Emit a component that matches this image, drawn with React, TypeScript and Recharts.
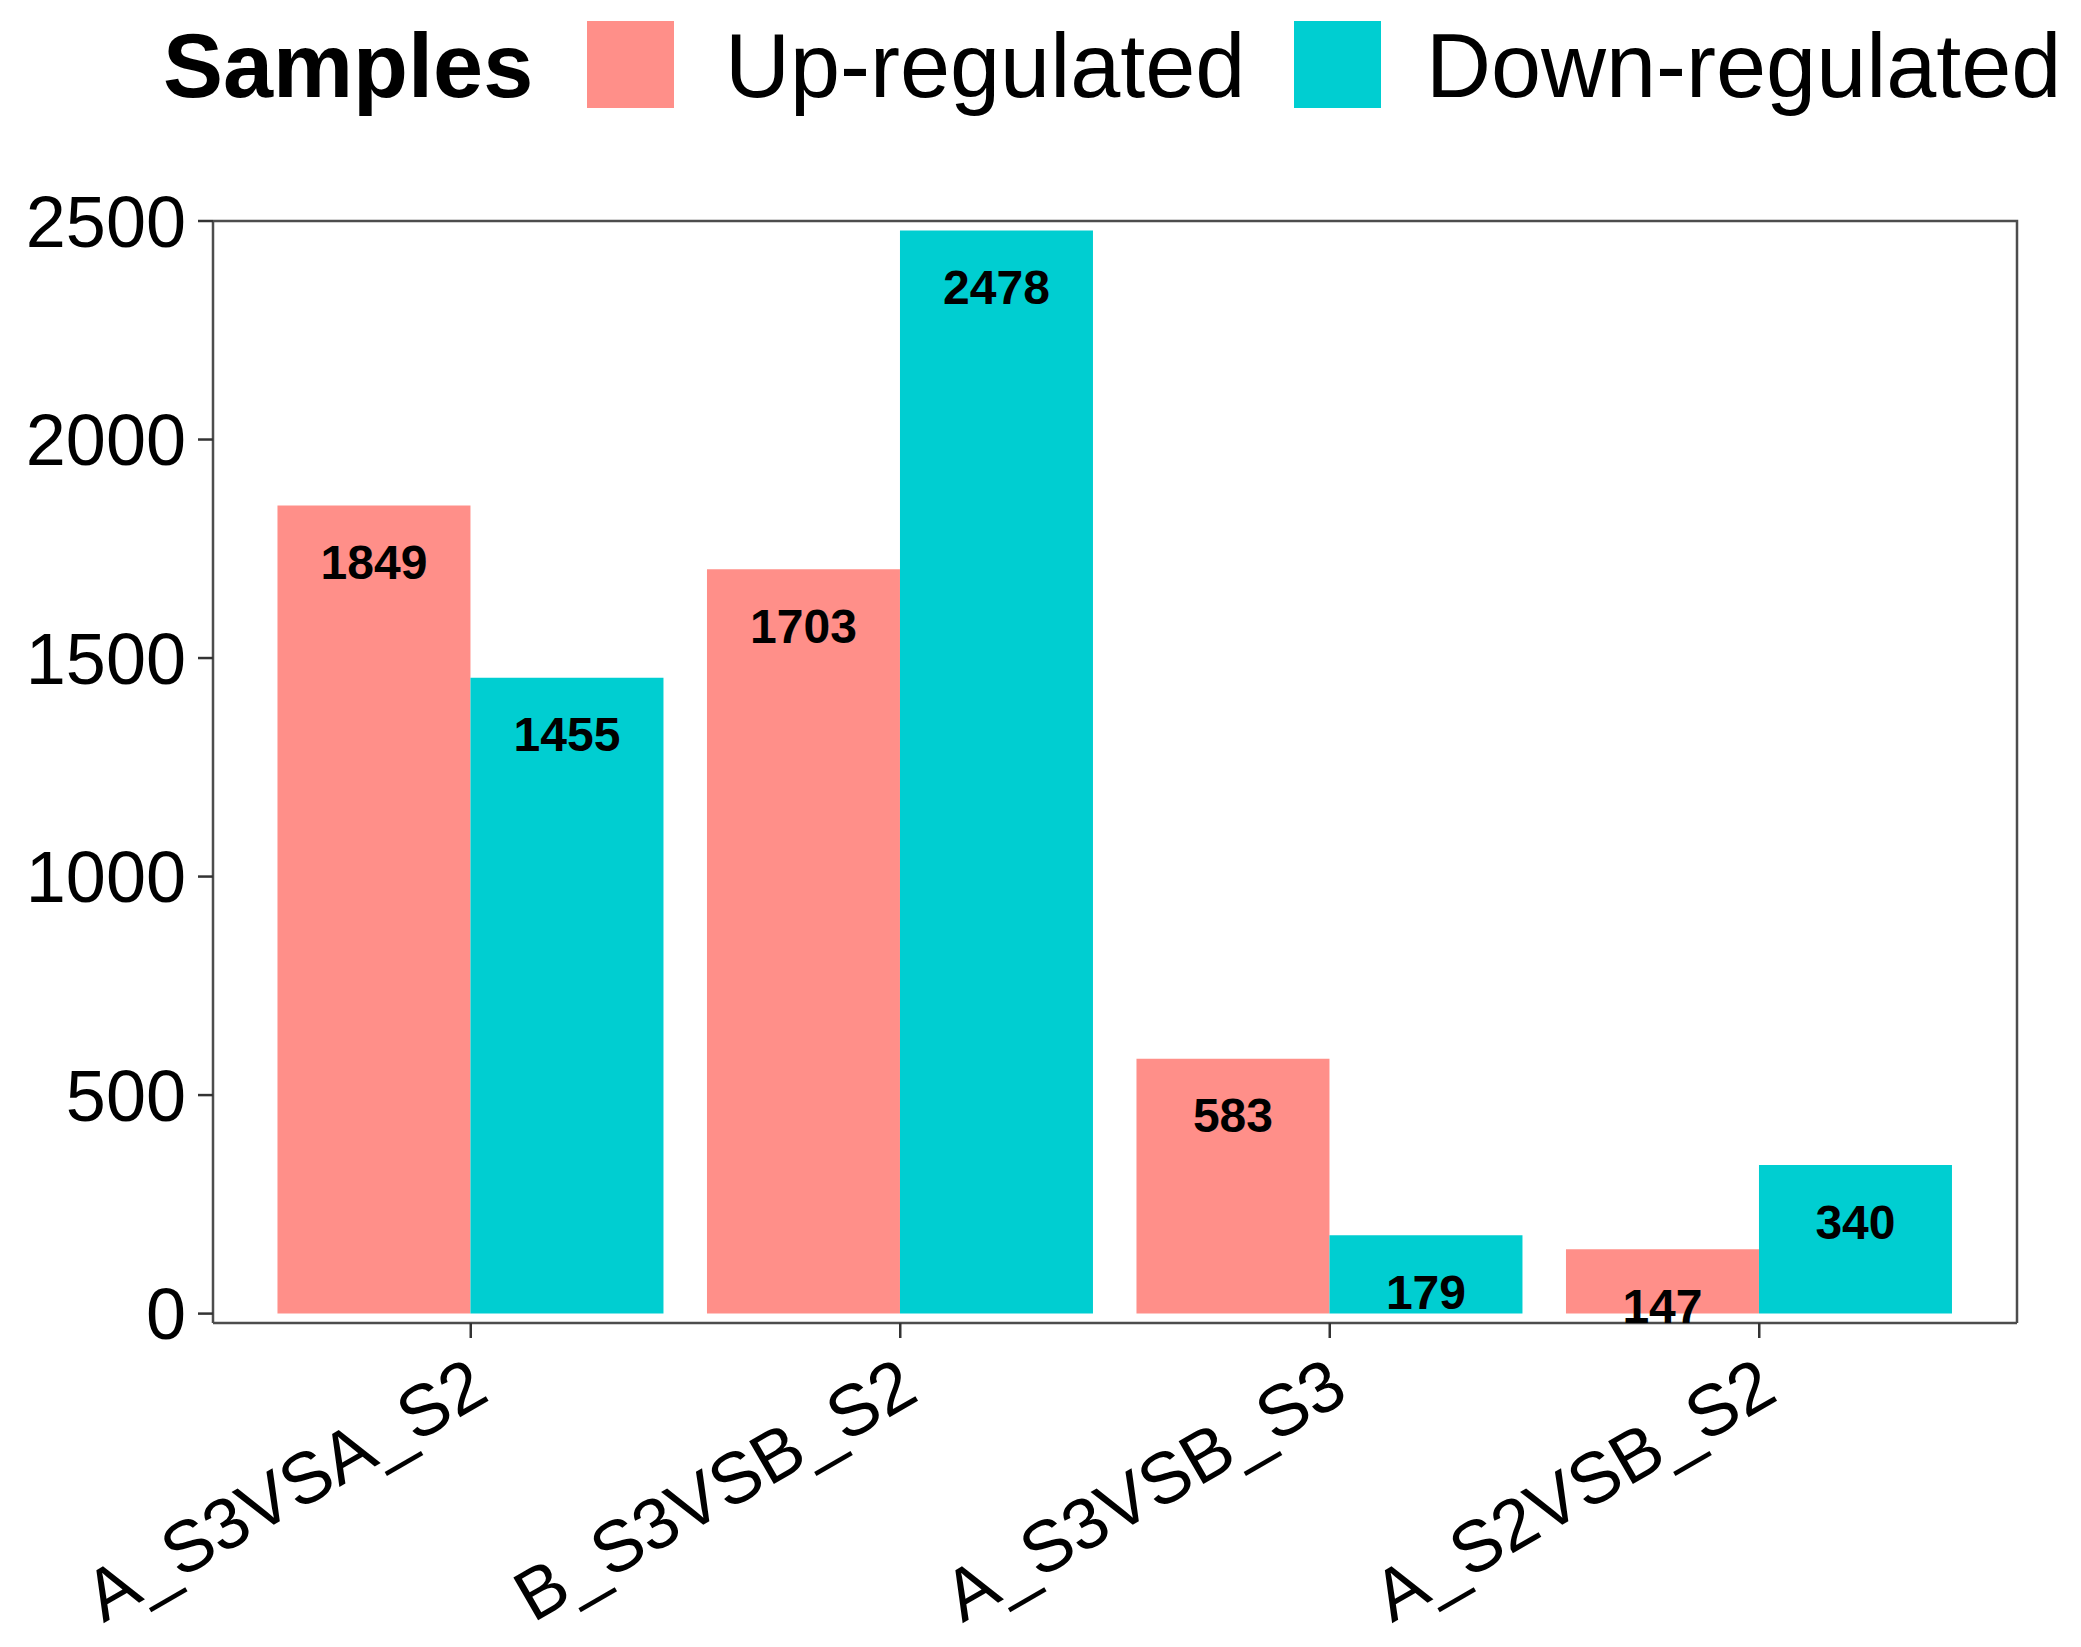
import * as React from 'react';
import { BarChart, Bar, XAxis, YAxis, LabelList } from 'recharts';

const categories = ['A_S3VSA_S2', 'B_S3VSB_S2', 'A_S3VSB_S3', 'A_S2VSB_S2'];
const upRegulated = [1849, 1703, 583, 147];
const downRegulated = [1455, 2478, 179, 340];
const yTicks = [0, 500, 1000, 1500, 2000, 2500];
const seriesNames = ['Up-regulated', 'Down-regulated'];
const seriesKeys = ['up', 'down'];
const COLORS = ['#FF8F89', '#00CED1'];
const legendTitle = 'Samples';

const FONT = "'Liberation Sans', Arial, Helvetica, sans-serif";
const AXIS = { stroke: '#4d4d4d', strokeWidth: 2.5 };

// plot panel edges (page pixels)
const PANEL = { left: 213, top: 221, right: 2017, bottom: 1323 };

const data = categories.map((name, i) => ({
  name,
  up: upRegulated[i],
  down: downRegulated[i],
}));

function XTick(props: any) {
  const { x, y, payload } = props;
  return (
    <g transform={`translate(${x + 21},${y + 59})`}>
      <text
        textAnchor="end"
        transform="rotate(-30)"
        fontSize={72}
        fontFamily={FONT}
        fill="#000"
      >
        {payload.value}
      </text>
    </g>
  );
}

function BarValue(props: any) {
  const { x, y, width, value } = props;
  return (
    <text
      x={x + width / 2}
      y={y + 73.5}
      textAnchor="middle"
      fontSize={48}
      fontWeight="bold"
      fontFamily={FONT}
      fill="#000"
    >
      {value}
    </text>
  );
}

function Overlay() {
  // legend + the top/right sides of the panel border
  const keyX = [587, 1294];
  const textX = [725, 1426];
  return (
    <svg
      width={2081}
      height={1647}
      style={{ position: 'absolute', left: 0, top: 0, pointerEvents: 'none' }}
    >
      <text x={163} y={97} fontSize={90} fontWeight="bold" fontFamily={FONT} fill="#000">
        {legendTitle}
      </text>
      {seriesNames.map((name, i) => (
        <g key={name}>
          <rect x={keyX[i]} y={21} width={87} height={87} fill={COLORS[i]} />
          <text x={textX[i]} y={97} fontSize={90} fontFamily={FONT} fill="#000">
            {name}
          </text>
        </g>
      ))}
      <polyline
        points={`${PANEL.left},${PANEL.top} ${PANEL.right},${PANEL.top} ${PANEL.right},${PANEL.bottom}`}
        fill="none"
        stroke={AXIS.stroke}
        strokeWidth={AXIS.strokeWidth}
      />
    </svg>
  );
}

export default function App() {
  return (
    <div
      style={{
        position: 'absolute',
        left: 0,
        top: 0,
        width: 2081,
        height: 1647,
        background: '#fff',
      }}
    >
      <BarChart
        width={2081}
        height={1647}
        data={data}
        margin={{ top: PANEL.top, right: 2081 - PANEL.right, bottom: 0, left: 0 }}
        barCategoryGap="5%"
        barGap={0}
      >
        <XAxis
          dataKey="name"
          height={1647 - PANEL.bottom}
          padding={{ left: 43, right: 43 }}
          axisLine={AXIS}
          tickLine={{ stroke: '#333', strokeWidth: 2.5 }}
          tickSize={15}
          tickMargin={2}
          interval={0}
          tick={<XTick />}
        />
        <YAxis
          type="number"
          domain={[-21.5, 2500]}
          ticks={yTicks}
          allowDataOverflow
          width={PANEL.left}
          tickSize={15}
          tickMargin={12}
          axisLine={AXIS}
          tickLine={{ stroke: '#333', strokeWidth: 2.5 }}
          tick={{ fontSize: 72, fill: '#000', fontFamily: FONT }}
        />
        {seriesKeys.map((key, i) => (
          <Bar
            key={key}
            dataKey={key}
            name={seriesNames[i]}
            fill={COLORS[i]}
            isAnimationActive={false}
          >
            <LabelList dataKey={key} content={<BarValue />} />
          </Bar>
        ))}
      </BarChart>
      <Overlay />
    </div>
  );
}
